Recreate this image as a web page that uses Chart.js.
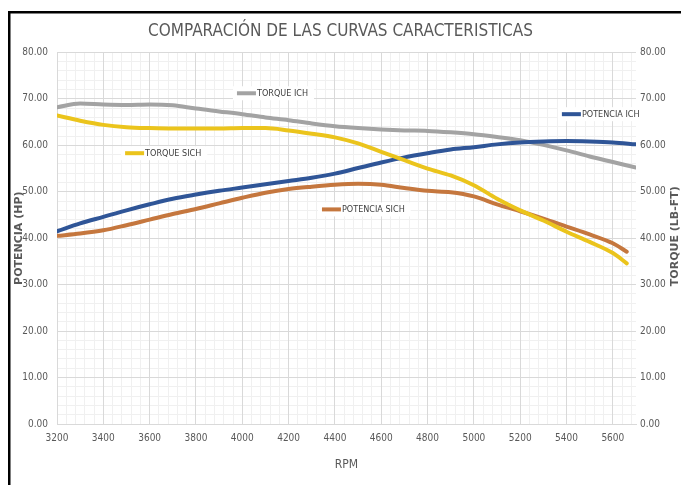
<!DOCTYPE html>
<html>
<head>
<meta charset="utf-8">
<script src="https://cdn.jsdelivr.net/npm/chart.js@4.4.0/dist/chart.umd.min.js"></script>
<style>
  body { margin: 0; background: #fff; }
  canvas { display: block; }
</style>
</head>
<body>
<canvas id="grafico" width="681" height="485"></canvas>
<script>
// lecturas cada 100 rpm (la prueba SICH termina antes)
const rpmICH = [3200, 3300, 3400, 3500, 3600, 3700, 3800, 3900, 4000, 4100, 4200, 4300, 4400,
  4500, 4600, 4700, 4800, 4900, 5000, 5100, 5200, 5300, 5400, 5500, 5600, 5700];
const rpmSICH = [3200, 3300, 3400, 3500, 3600, 3700, 3800, 3900, 4000, 4100, 4200, 4300, 4400,
  4500, 4600, 4700, 4800, 4900, 5000, 5100, 5200, 5300, 5400, 5500, 5600, 5660];

const potenciaICH = [41.5, 43.2, 44.6, 46.0, 47.3, 48.5, 49.4, 50.2, 50.9, 51.6, 52.3, 53.0, 53.9,
  55.1, 56.3, 57.4, 58.3, 59.1, 59.6, 60.2, 60.6, 60.8, 60.9, 60.8, 60.6, 60.2];
const potenciaSICH = [40.5, 41.0, 41.7, 42.8, 44.0, 45.2, 46.3, 47.5, 48.7, 49.8, 50.6, 51.1, 51.5,
  51.7, 51.5, 50.8, 50.2, 49.9, 49.0, 47.3, 45.8, 44.2, 42.5, 40.8, 38.9, 37.1];
const torqueICH = [68.2, 69.0, 68.8, 68.7, 68.8, 68.6, 67.9, 67.3, 66.7, 66.0, 65.4, 64.7, 64.1,
  63.7, 63.4, 63.2, 63.1, 62.8, 62.4, 61.8, 61.1, 60.1, 58.9, 57.6, 56.4, 55.2];
const torqueSICH = [66.4, 65.3, 64.4, 63.9, 63.7, 63.6, 63.6, 63.6, 63.7, 63.7, 63.2, 62.5, 61.7,
  60.4, 58.6, 56.8, 55.0, 53.5, 51.4, 48.5, 46.0, 43.8, 41.4, 39.2, 36.8, 34.6];

// etiquetas sueltas dentro del grafico (rpm, valor)
const etiquetas = [
  { serie: 'TORQUE ICH', rpm: 3977, valor: 71.2 },
  { serie: 'TORQUE SICH', rpm: 3494, valor: 58.3 },
  { serie: 'POTENCIA SICH', rpm: 4344, valor: 46.2 },
  { serie: 'POTENCIA ICH', rpm: 5380, valor: 66.7 },
];

const colores = {
  'POTENCIA ICH': '#2F5597',
  'POTENCIA SICH': '#C5773E',
  'TORQUE ICH': '#A3A3A3',
  'TORQUE SICH': '#EBC41C',
};

const fuente = "'Liberation Sans Narrow', 'DejaVu Sans Condensed', 'Arial Narrow', sans-serif";
const gris = '#595959';

function puntos(xs, ys) {
  return xs.map((x, i) => ({ x: x, y: ys[i] }));
}

Chart.defaults.font.family = fuente;
Chart.defaults.color = gris;

const marco = {
  id: 'marco',
  beforeDraw(chart) {
    const ctx = chart.ctx;
    ctx.save();
    ctx.fillStyle = '#fff';
    ctx.fillRect(0, 0, chart.width, chart.height);
    ctx.fillStyle = '#000';
    ctx.fillRect(8, 11, chart.width - 8, 2.5);
    ctx.fillRect(8, 11, 2.5, chart.height - 11);
    ctx.restore();
  },
  afterDraw(chart) {
    // titulo del eje derecho, leido de abajo hacia arriba
    const ctx = chart.ctx;
    const area = chart.chartArea;
    ctx.save();
    ctx.translate(675, (area.top + area.bottom) / 2 - 2);
    ctx.rotate(-Math.PI / 2);
    ctx.font = "bold 11px 'DejaVu Sans', sans-serif";
    ctx.fillStyle = gris;
    ctx.textAlign = 'center';
    ctx.textBaseline = 'middle';
    ctx.fillText('TORQUE (LB-FT)', 0, 0);
    ctx.restore();
  }
};

const rotulos = {
  id: 'rotulos',
  afterDatasetsDraw(chart) {
    const ctx = chart.ctx;
    const sx = chart.scales.x, sy = chart.scales.y;
    ctx.save();
    ctx.font = '9px ' + fuente;
    ctx.textBaseline = 'middle';
    etiquetas.forEach(e => {
      const px = sx.getPixelForValue(e.rpm);
      const py = sy.getPixelForValue(e.valor);
      const ancho = ctx.measureText(e.serie).width;
      ctx.fillStyle = '#fff';
      ctx.fillRect(px - 4, py - 7, ancho + 30, 14);
      ctx.strokeStyle = colores[e.serie];
      ctx.lineWidth = 4;
      ctx.beginPath();
      ctx.moveTo(px, py);
      ctx.lineTo(px + 19, py);
      ctx.stroke();
      ctx.fillStyle = '#404040';
      ctx.fillText(e.serie, px + 20, py + 0.5);
    });
    ctx.restore();
  }
};

function serie(nombre, xs, ys, eje) {
  return {
    label: nombre,
    data: puntos(xs, ys),
    yAxisID: eje,
    borderColor: colores[nombre],
    backgroundColor: colores[nombre],
    borderWidth: 4,
    borderCapStyle: 'round',
    pointRadius: 0,
    cubicInterpolationMode: 'monotone',
    fill: false,
  };
}

new Chart(document.getElementById('grafico'), {
  type: 'line',
  data: {
    datasets: [
      serie('TORQUE SICH', rpmSICH, torqueSICH, 'y2'),
      serie('POTENCIA ICH', rpmICH, potenciaICH, 'y'),
      serie('TORQUE ICH', rpmICH, torqueICH, 'y2'),
      serie('POTENCIA SICH', rpmSICH, potenciaSICH, 'y'),
    ],
  },
  options: {
    responsive: false,
    animation: false,
    layout: { padding: 0 },
    plugins: {
      legend: { display: false },
      tooltip: { enabled: false },
      title: {
        display: true,
        text: 'COMPARACIÓN DE LAS CURVAS CARACTERISTICAS',
        color: gris,
        font: { family: fuente, size: 17, weight: 'normal' },
        padding: { top: 21, bottom: 11 },
      },
    },
    scales: {
      xMenor: {
        type: 'linear', position: 'bottom', min: 3200, max: 5700, z: -1,
        ticks: { display: false, stepSize: 40, includeBounds: false },
        grid: { color: '#f0f0f0', drawTicks: false },
        border: { display: false },
      },
      yMenor: {
        type: 'linear', position: 'left', min: 0, max: 80, z: -1,
        ticks: { display: false, stepSize: 2 },
        grid: { color: '#f0f0f0', drawTicks: false },
        border: { display: false },
      },
      x: {
        type: 'linear', min: 3200, max: 5700,
        ticks: { stepSize: 200, includeBounds: false, padding: 8, font: { size: 10 },
          callback: v => String(v) },
        grid: { color: '#d9d9d9', drawTicks: false },
        border: { color: '#d9d9d9' },
        title: { display: true, text: 'RPM', font: { size: 12 }, padding: { top: 4, bottom: 13 } },
        afterFit: s => { s.height = 61; },
      },
      y: {
        position: 'left', min: 0, max: 80,
        ticks: { stepSize: 10, padding: 9, font: { size: 10 }, callback: v => v.toFixed(2) },
        grid: { color: '#d9d9d9', drawTicks: false },
        border: { display: false },
        title: { display: true, text: 'POTENCIA (HP)', padding: { top: 13 },
          font: { family: "'DejaVu Sans', sans-serif", size: 11, weight: 'bold' } },
        afterFit: s => { s.width = 57; },
      },
      y2: {
        position: 'right', min: 0, max: 80,
        ticks: { stepSize: 10, padding: 4, font: { size: 10 }, callback: v => v.toFixed(2) },
        grid: { display: false, drawTicks: false },
        border: { display: false },
        afterFit: s => { s.width = 45; },
      },
    },
  },
  plugins: [marco, rotulos],
});
</script>
</body>
</html>
